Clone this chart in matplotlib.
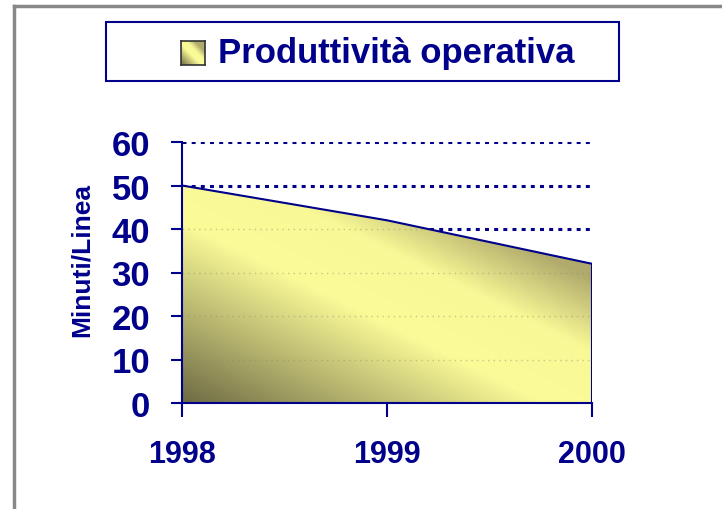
import numpy as np
import matplotlib
matplotlib.use("Agg")
import matplotlib.pyplot as plt
from matplotlib.colors import LinearSegmentedColormap
from matplotlib.patches import Rectangle, Polygon
from matplotlib.lines import Line2D

plt.rcParams['font.family'] = ['Liberation Sans', 'DejaVu Sans']

# dati
anni = ['1998', '1999', '2000']
valori = [50, 42, 32]
yticks = [0, 10, 20, 30, 40, 50, 60]
serie = 'Produttività operativa'
ylabel = 'Minuti/Linea'

navy = '#00008b'
cmap = LinearSegmentedColormap.from_list(
    'oliva', [(0.0, '#6e6b44'), (0.55, '#fbfb98'), (0.78, '#f8f896'), (1.0, '#b0ab6c')])

fig = plt.figure(figsize=(7.22, 5.10), dpi=100)
ax = fig.add_axes([182 / 722, 1 - 404 / 510, 410 / 722, 261 / 510])

x = np.arange(len(anni))
ax.set_xlim(x[0], x[-1])
ax.set_ylim(0, 60)

# griglia tratteggiata blu (dietro l'area)
for v in yticks[1:]:
    ax.axhline(v, color=navy, lw=2.2, ls=(0, (1.3, 1.7)), zorder=1)

# area con sfumatura diagonale
verts = np.vstack([[x[0], 0]] + [[xi, yi] for xi, yi in zip(x, valori)] + [[x[-1], 0]])
clip = Polygon(verts, closed=True, transform=ax.transData, facecolor='none', edgecolor='none')
ax.add_patch(clip)
gx, gy = np.meshgrid(np.linspace(0, 410, 300), np.linspace(0, 261, 200))
t = (0.5 * gx + gy) / 330
img = ax.imshow(np.clip(t, 0, 1), cmap=cmap, vmin=0, vmax=1, origin='lower',
                extent=(x[0], x[-1], 0, 60), aspect='auto', zorder=3)
img.set_clip_path(clip)

# griglia grigia sbiadita dentro l'area
for v in yticks[1:]:
    gl = ax.axhline(v, color='#8a8a70', lw=1.0, ls=(0, (1, 3)), alpha=0.45, zorder=4)
    gl.set_clip_path(clip)

# contorno dell'area
ax.plot(x, valori, color=navy, lw=1.5, zorder=5)
ax.plot([x[-1], x[-1]], [0, valori[-1]], color=navy, lw=1.5, zorder=5)

for s in ['top', 'right']:
    ax.spines[s].set_visible(False)
for s in ['left', 'bottom']:
    ax.spines[s].set_color(navy)
    ax.spines[s].set_linewidth(1.5)
    ax.spines[s].set_zorder(6)

ax.set_yticks(yticks)
ax.set_yticklabels([str(v) for v in yticks])
ax.set_xticks(x)
ax.set_xticklabels(anni)
ax.tick_params(axis='y', direction='out', length=8, width=1.5, color=navy, pad=15,
               labelsize=25, labelcolor=navy)
ax.tick_params(axis='x', direction='out', length=10, width=1.5, color=navy, pad=16,
               labelsize=22, labelcolor=navy)
for lab in ax.get_xticklabels() + ax.get_yticklabels():
    lab.set_fontweight('bold')

ax.set_ylabel(ylabel, color=navy, fontsize=19, fontweight='bold')
ax.yaxis.set_label_coords(-0.215, 0.55)

# cornice grigia della figura
fig.add_artist(Line2D([14 / 722, 14 / 722], [0, 1 - 7 / 510], transform=fig.transFigure,
                      color='#888888', lw=2.5))
fig.add_artist(Line2D([14 / 722, 1], [1 - 7 / 510, 1 - 7 / 510], transform=fig.transFigure,
                      color='#888888', lw=2.5))

# legenda
fig.add_artist(Rectangle((106 / 722, 1 - 82 / 510), 513 / 722, 59 / 510, zorder=-1,
                         transform=fig.transFigure, facecolor='white', edgecolor=navy, lw=1.5))
lax = fig.add_axes([181 / 722, 1 - 66 / 510, 24 / 722, 24 / 510], zorder=3)
lg = np.linspace(0, 1, 50)
lx, ly = np.meshgrid(lg, lg)
lax.imshow((lx + ly) / 2 * 1.3, cmap=cmap, vmin=0, vmax=1, origin='lower', aspect='auto')
lax.set_xticks([])
lax.set_yticks([])
for s in lax.spines.values():
    s.set_color('#333333')
    s.set_linewidth(1.2)
fig.text(218 / 722, 1 - 54 / 510, serie, color=navy, fontsize=25, fontweight='bold',
         ha='left', va='center')

fig.savefig('out.png', dpi=100)
